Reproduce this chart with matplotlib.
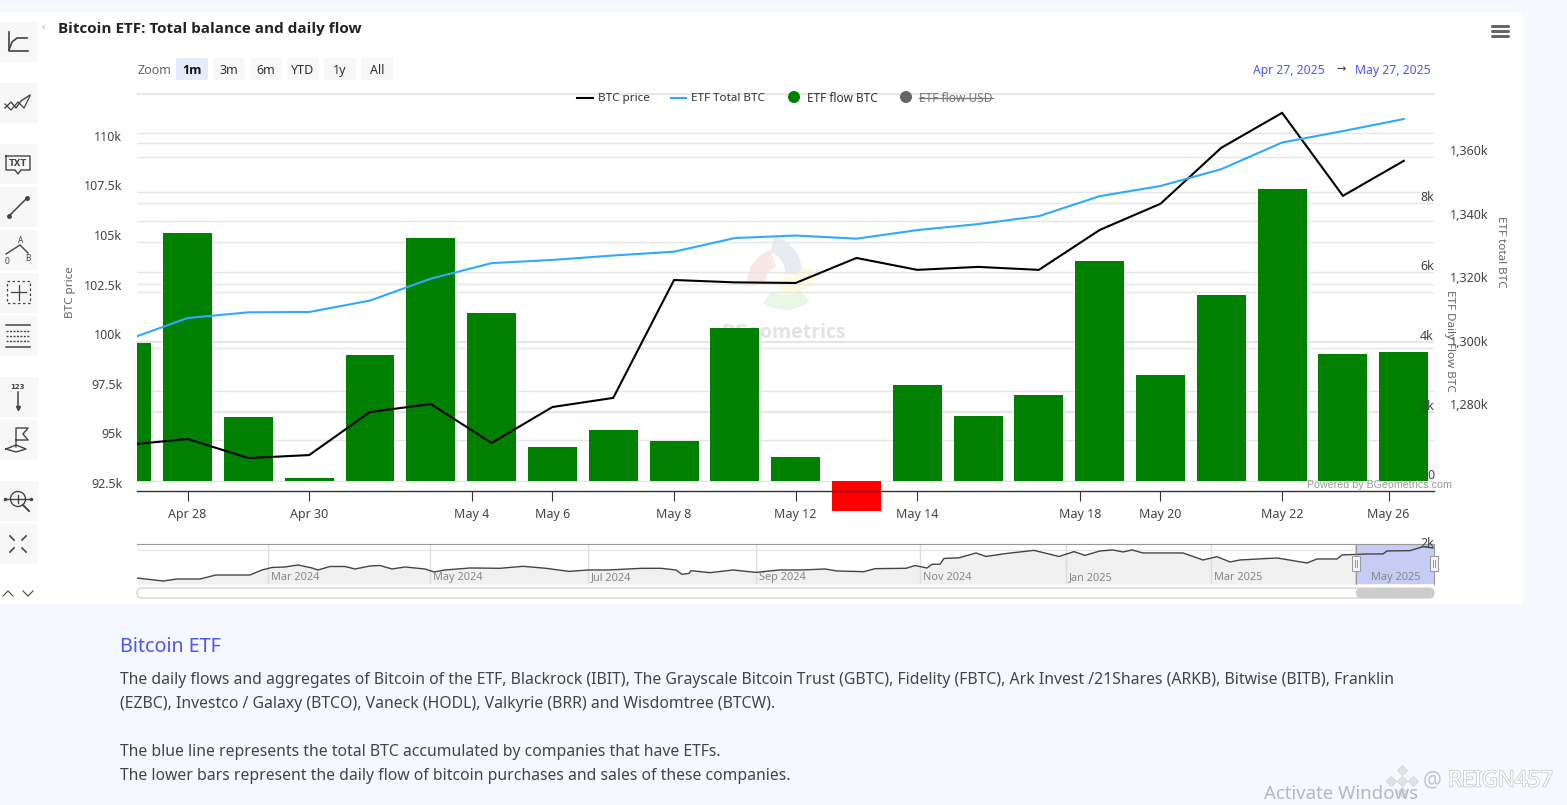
import matplotlib
matplotlib.use('Agg')
import matplotlib.pyplot as plt
import matplotlib.patheffects as pe
from matplotlib.lines import Line2D
from matplotlib.patches import Rectangle, Wedge, FancyBboxPatch, Circle
from matplotlib.transforms import Affine2D, ScaledTranslation, blended_transform_factory

plt.rcParams['font.family'] = ['Noto Sans', 'DejaVu Sans']

W, H = 1567, 805

# session index, -1 is the bar cut off by the left edge
sessions = list(range(-1, 21))
btc_price = [94770, 95070, 94110, 94260, 96430, 96830, 94870, 96680, 97140, 103080, 102960,
             102930, 104190, 103590, 103740, 103590, 105600, 106920, 109740, 111500, 107320, 109080]
etf_total = [1302.4, 1309.3, 1311.1, 1311.2, 1314.8, 1321.7, 1326.6, 1327.6, 1329.0, 1330.2, 1334.5,
             1335.3, 1334.3, 1337.0, 1338.9, 1341.4, 1347.7, 1350.9, 1356.2, 1364.6, 1368.2, 1372.0]
etf_flow = [3971, 7137, 1842, 86, 3626, 6993, 4835, 978, 1468, 1151, 4403,
            691, -863, 2763, 1871, 2475, 6331, 3050, 5353, 8403, 3655, 3712]

date_ticks = [0, 2, 4.67, 6, 8, 10, 12, 14.68, 16, 18, 19.75]
date_labels = ['Apr 28', 'Apr 30', 'May 4', 'May 6', 'May 8', 'May 12', 'May 14',
               'May 18', 'May 20', 'May 22', 'May 26']

price_ticks = [92500, 95000, 97500, 100000, 102500, 105000, 107500, 110000]
price_labels = ['92.5k', '95k', '97.5k', '100k', '102.5k', '105k', '107.5k', '110k']
flow_ticks = [0, 2000, 4000, 6000, 8000]
flow_labels = ['0', '2k', '4k', '6k', '8k']
total_ticks = [1280, 1300, 1320, 1340, 1360]
total_labels = ['1,280k', '1,300k', '1,320k', '1,340k', '1,360k']

# navigator overview series
nav_pos = [0, 26, 40, 63, 79, 113, 125, 135, 148, 161, 175, 181, 193, 208, 218, 233, 243, 255, 268, 288,
           297, 308, 333, 363, 386, 409, 432, 451, 470, 485, 505, 524, 539, 545, 552, 554, 573, 596, 619,
           642, 665, 688, 700, 727, 738, 769, 778, 790, 795, 803, 807, 822, 839, 849, 868, 897, 922, 937,
           948, 963, 976, 986, 995, 1006, 1046, 1066, 1080, 1093, 1103, 1140, 1170, 1180, 1200, 1205,
           1230, 1246, 1250, 1273, 1286, 1296]
nav_value = [42.2, 35.6, 40, 40, 48.8, 48.8, 59.8, 65.3, 66.4, 70.8, 64.2, 59.8, 67.5, 67.5, 62, 68.6, 69.7,
             62, 66.4, 62, 55.4, 59.8, 64.2, 63.5, 67.9, 63.5, 56.7, 59.8, 59.8, 61.3, 63.5, 63.5, 59.8, 50.1,
             52.3, 58.3, 53.9, 59.8, 54.5, 59.8, 59.8, 62, 57.6, 56.1, 62.7, 63.5, 69.5, 64.2, 72.3, 72.3,
             85.1, 86.6, 97.2, 89.5, 95.7, 102.9, 89.5, 100.1, 91.9, 101.6, 103.8, 99.4, 103.8, 97.2, 97.2,
             81.8, 89.1, 77.4, 81.8, 86.2, 75.2, 84, 84, 92.8, 95, 95, 101.6, 102.3, 111.1, 108.2]
nav_month_pos = [131, 293, 451, 619, 783, 929, 1074, 1231]
nav_month_labels = ['Mar 2024', 'May 2024', 'Jul 2024', 'Sep 2024', 'Nov 2024', 'Jan 2025', 'Mar 2025', 'May 2025']

zoom_buttons = ['1m', '3m', '6m', 'YTD', '1y', 'All']

body_lines = [
    'The daily flows and aggregates of Bitcoin of the ETF, Blackrock (IBIT), The Grayscale Bitcoin Trust (GBTC), Fidelity (FBTC), Ark Invest /21Shares (ARKB), Bitwise (BITB), Franklin',
    '(EZBC), Investco / Galaxy (BTCO), Vaneck (HODL), Valkyrie (BRR) and Wisdomtree (BTCW).',
    'The blue line represents the total BTC accumulated by companies that have ETFs.',
    'The lower bars represent the daily flow of bitcoin purchases and sales of these companies.',
]

GRID = '#e6e6e6'
TXT = '#444444'
BLUE = '#2fa9ff'
LINK = '#4d55f5'
BOLD = ['Open Sans', 'DejaVu Sans']

fig = plt.figure(figsize=(W / 100, H / 100), dpi=100, facecolor='#f5f8fe')
PX = Affine2D().scale(1, -1).translate(0, H)  # page pixels, y pointing down


def axes_px(left, top, right, bottom):
    return fig.add_axes([left / W, 1 - bottom / H, (right - left) / W, (bottom - top) / H], facecolor='none')


def label(x, y, s, size=9, color=TXT, ha='left', va='center', **kw):
    return fig.text(x, y, s, transform=PX, fontsize=size, color=color, ha=ha, va=va, **kw)


def seg(xs, ys, color='#333333', lw=1.0, z=1, **kw):
    fig.add_artist(Line2D(xs, ys, transform=PX, color=color, lw=lw, zorder=z, **kw))


def box(x, y, w, h, color, z=-5, round_px=0, **kw):
    if round_px:
        p = FancyBboxPatch((x, y), w, h, boxstyle=f'round,pad=0,rounding_size={round_px}',
                           transform=PX, fc=color, zorder=z, **kw)
    else:
        p = Rectangle((x, y), w, h, transform=PX, fc=color, zorder=z, **kw)
    fig.add_artist(p)


# white card
box(0, 12, 1523, 592, 'white', z=-10, lw=0)

# watermark logo and name behind the plot
for cx, cy, r, th1, th2, w, c in [(765, 272, 37, -75, 5, 17, '#e8ebf0'), (782, 283, 35, 175, 250, 18, '#fae6e6'),
                                  (785, 258, 37, 25, 100, 17, '#fdfbdc'), (785, 272, 38, 50, 125, 15, '#e9f6e4')]:
    fig.add_artist(Wedge((cx, cy), r, th1, th2, width=w, transform=PX, fc=c, lw=0, zorder=-4))
label(784, 333, 'BGeometrics', size=14, color='#e3e3e3', ha='center', weight='bold', family=BOLD, zorder=-4)

# main plot, three y axes on the same box
ax_flow = axes_px(137, 93, 1434, 490.5)
ax_price = ax_flow.twinx()
ax_total = ax_flow.twinx()
ax_flow.set_zorder(1)
ax_price.set_zorder(2)
ax_total.set_zorder(3)

ax_flow.set_xlim(-0.832, 20.498)
ax_flow.set_ylim(-273, 11165)
ax_price.set_ylim(92475, 112500)
ax_total.set_ylim(1254.96, 1380.2)

bar_colors = ['#008000' if v >= 0 else '#ff0000' for v in etf_flow]
bars = ax_flow.bar(sessions, etf_flow, width=0.805, color=bar_colors, zorder=1)
for b, v in zip(bars, etf_flow):
    if v < 0:
        b.set_clip_on(False)

ax_price.plot(sessions, btc_price, color='black', lw=1.5, zorder=3, solid_joinstyle='miter')
ax_total.plot(sessions, etf_total, color=BLUE, lw=1.5, zorder=3)

# gridlines of all three axes go under the bars
grid_sets = [(ax_flow, flow_ticks + [10000]), (ax_price, price_ticks[1:] + [112500]), (ax_total, total_ticks + [1380])]
for ax, ticks in grid_sets:
    tr = blended_transform_factory(ax_flow.transAxes, ax.transData)
    for v in ticks:
        ax_flow.add_line(Line2D([0, 1], [v, v], transform=tr, color=GRID, lw=1.0, zorder=0.5))

for ax in (ax_flow, ax_price, ax_total):
    for s in ax.spines.values():
        s.set_visible(False)

ax_flow.set_axisbelow(False)
ax_flow.spines['bottom'].set_visible(True)
ax_flow.spines['bottom'].set_color('#333333')
ax_flow.spines['bottom'].set_linewidth(1.0)
ax_flow.set_xticks(date_ticks, date_labels)
ax_flow.tick_params(axis='x', length=7, width=0.8, color='#333333', labelsize=9, labelcolor=TXT, pad=5.8)

down_1px = ScaledTranslation(0, -1 / 100, fig.dpi_scale_trans)

ax_price.yaxis.tick_left()
ax_price.set_yticks(price_ticks, price_labels)
ax_price.tick_params(axis='y', length=0, labelsize=9, labelcolor=TXT, pad=10.5)
for t in ax_price.get_yticklabels():
    t.set_va('bottom')
    t.set_transform(t.get_transform() + down_1px)

ax_flow.yaxis.tick_right()
ax_flow.set_yticks(flow_ticks, flow_labels)
ax_flow.tick_params(axis='y', length=0, labelsize=9, labelcolor=TXT, pad=0)
for t in ax_flow.get_yticklabels():
    t.set_va('bottom')
    t.set_ha('right')
    t.set_transform(t.get_transform() + down_1px)

ax_total.yaxis.tick_right()
ax_total.set_yticks(total_ticks, total_labels)
ax_total.tick_params(axis='y', length=0, labelsize=9, labelcolor=TXT, pad=11.5)
for t in ax_total.get_yticklabels():
    t.set_va('bottom')
    t.set_transform(t.get_transform() + down_1px)

label(70, 292, 'BTC price', size=8.4, color='#666666', ha='center', rotation=90)
label(1449, 341, 'ETF Daily Flow BTC', size=8.4, color='#666666', ha='center', rotation=270)
label(1501, 252, 'ETF total BTC', size=8.4, color='#666666', ha='center', rotation=270)
label(1379, 484.5, 'Powered by BGeometrics.com', size=7.7, color='#999999', ha='center',
      family='Liberation Sans', zorder=5)

# title, range selector, date range, menu
label(58, 29, 'Bitcoin ETF: Total balance and daily flow', size=11, color='#222222', weight='bold', family=BOLD)
label(137, 70, 'Zoom', size=9, color='#666666')
for i, name in enumerate(zoom_buttons):
    x = 176 + i * 37
    box(x, 58, 32, 22, '#e6ebfc' if i == 0 else '#f7f7f7', z=-3, round_px=2, lw=0)
    if i == 0:
        label(x + 16, 70, name, size=9, color='#111111', ha='center', weight='bold', family=BOLD)
    else:
        label(x + 16, 70, name, size=9, color='#333333', ha='center')
label(1325, 70, 'Apr 27, 2025', size=8.8, color=LINK, ha='right')
label(1341, 70, '→', size=8, color='#333333', ha='center')
label(1431, 70, 'May 27, 2025', size=8.8, color=LINK, ha='right')
for y in (26, 31, 36):
    seg([1492, 1508], [y, y], color='#666666', lw=2.2, solid_capstyle='round')

# legend row sits over the top gridline
LZ = 10
seg([577, 593], [98, 98], color='black', lw=1.5, z=LZ)
label(598, 98.5, 'BTC price', size=8.4, color='#333333', zorder=LZ)
seg([671, 686], [98, 98], color=BLUE, lw=1.5, z=LZ)
label(691, 98.5, 'ETF Total BTC', size=8.4, color='#333333', zorder=LZ)
fig.add_artist(Circle((794, 97), 6, transform=PX, fc='#008000', lw=0, zorder=LZ))
label(807, 98.5, 'ETF flow BTC', size=8.5, color='#333333', zorder=LZ)
fig.add_artist(Circle((906, 97), 6, transform=PX, fc='#666666', lw=0, zorder=LZ))
label(919, 98.5, 'ETF flow USD', size=8.6, color='#777777', zorder=LZ)
seg([919, 993], [98, 98], color='#777777', lw=0.9, z=LZ)

# navigator
ax_nav = axes_px(137, 543.5, 1434, 584)
ax_nav.set_xlim(0, 1297)
ax_nav.set_ylim(29, 118)
ax_nav.fill_between(nav_pos, nav_value, 29, color='#f0f0f0', lw=0, zorder=1)
ax_nav.plot(nav_pos, nav_value, color='#444444', lw=1.0, zorder=3)
ax_nav.axhline(103, color=GRID, lw=1, zorder=0.5)
ax_nav.axvspan(1218, 1297, color='#c6cdf4', lw=0, zorder=2)
for p, name in zip(nav_month_pos, nav_month_labels):
    ax_nav.axvline(p, color='#dddddd', lw=1, zorder=1.5)
    ax_nav.annotate(name, (p, 38), xytext=(3, 0), textcoords='offset pixels', fontsize=7.9,
                    color='#888888', va='baseline', zorder=4)
ax_nav.set_xticks([])
ax_nav.set_yticks([])
for s in ax_nav.spines.values():
    s.set_visible(False)
ax_nav.spines['top'].set_visible(True)
ax_nav.spines['top'].set_color('#999999')
label(1434, 543, '2k', size=9, ha='right', zorder=5)
seg([1355.5, 1355.5], [543.5, 584], color='#999999', lw=0.8, z=4)
seg([1433.5, 1433.5], [543.5, 584], color='#999999', lw=0.8, z=4)
for x in (1355.5, 1433.5):
    box(x - 4, 556, 8, 15, '#f2f2f2', z=6, ec='#999999', lw=0.7)
    seg([x - 1, x - 1], [560, 567], color='#999999', lw=0.7, z=7)
    seg([x + 1, x + 1], [560, 567], color='#999999', lw=0.7, z=7)

# scrollbar
box(137, 588, 1297, 10, 'white', z=-3, round_px=5, ec='#cccccc', lw=0.8)
box(1356, 588, 78, 10, '#cccccc', z=-2, round_px=5, lw=0)

# toolbar down the left edge
icon = '#444444'
for top in (22, 83, 144, 187, 230, 273, 316, 377, 420, 481, 524):
    box(0, top, 38, 40, '#f7f7f7', z=-3, lw=0)
seg([9, 9, 28], [32, 51, 51], color=icon, lw=1.2)
seg([9, 12, 17, 27], [50, 42, 38, 38], color=icon, lw=1.2)
seg([5, 11, 16, 21, 30], [108, 102, 108, 101, 95], color=icon, lw=1.0)
seg([5, 11, 18, 24, 30], [104, 110, 102, 108, 96], color=icon, lw=0.9)
seg([6, 30, 30, 21, 18, 15, 6, 6], [156, 156, 170, 170, 174, 170, 170, 156], color=icon, lw=1.0)
label(18, 163, 'TXT', size=6, color=icon, ha='center', weight='bold', family='DejaVu Sans')
seg([9, 27], [216, 198], color=icon, lw=1.1, marker='o', ms=2.5)
seg([6, 20, 28], [254, 245, 253], color=icon, lw=1.0)
label(21, 240, 'A', size=6, color=icon, ha='center')
label(7, 261, '0', size=6, color=icon, ha='center')
label(28, 258, 'B', size=6, color=icon, ha='center')
seg([7, 30, 30, 7, 7], [281, 281, 303, 303, 281], color=icon, lw=0.9, ls=(0, (2, 2)))
seg([11, 26], [292, 292], color=icon, lw=0.9)
seg([18.5, 18.5], [285, 300], color=icon, lw=0.9)
for y in (325, 347):
    seg([6, 30], [y, y], color=icon, lw=1.1)
for y in (331, 336, 341):
    seg([6, 30], [y, y], color=icon, lw=1.0, ls=(0, (1.5, 1)))
label(17.5, 387, '123', size=5, color=icon, ha='center', weight='bold', family='DejaVu Sans')
seg([17.5, 17.5], [392, 408], color=icon, lw=1.1, marker='v', ms=3, markevery=[1])
seg([16, 16, 28, 23, 28, 16], [447, 428, 428, 434, 440, 440], color=icon, lw=1.0)
seg([6, 16, 26, 16, 6], [449, 445, 449, 452, 449], color=icon, lw=1.0)
fig.add_artist(Circle((18, 499), 7.5, transform=PX, fc='none', ec=icon, lw=1.0))
seg([5, 31], [499, 499], color=icon, lw=1.0, marker='o', ms=1.5, markevery=[0, 1])
seg([18, 18], [495, 503], color=icon, lw=1.0)
seg([23, 29], [505, 511], color=icon, lw=1.4)
for x1, y1, x2, y2 in [(10, 536, 14, 540), (26, 536, 22, 540), (10, 552, 14, 548), (26, 552, 22, 548)]:
    seg([x1, x2], [y1, y2], color=icon, lw=1.2)
seg([3, 8, 13], [596, 591, 596], color='#444444', lw=0.8)
seg([23, 28, 33], [591, 596, 591], color='#444444', lw=0.8)
label(43, 27, '‹', size=8, color='#aaaaaa', ha='center')

# description below the chart
label(120, 647, 'Bitcoin ETF', size=14.2, color=LINK)
for y, line in zip((680, 704, 752, 776), body_lines):
    label(120, y, line, size=11.35, color='#444444')

# screenshot overlays
label(1264, 794, 'Activate Windows', size=13.4, color='#b5b8bd')
for dx, dy, ms in [(0, -11, 5), (-11, 0, 5), (11, 0, 5), (0, 11, 5), (0, 0, 5)]:
    seg([1402 + dx], [781 + dy], color='#e2e2e2', marker='D', ms=ms, mec='#cfcfcf', mew=0.5, lw=0, z=3)
label(1423, 781, '@', size=15, color='#c6c6c6', zorder=3)
label(1448, 781, 'REIGN457', size=16, color='white', zorder=3,
      path_effects=[pe.withStroke(linewidth=1.0, foreground='#c2c2c2')])

fig.savefig('out.png', dpi=100, facecolor=fig.get_facecolor())
